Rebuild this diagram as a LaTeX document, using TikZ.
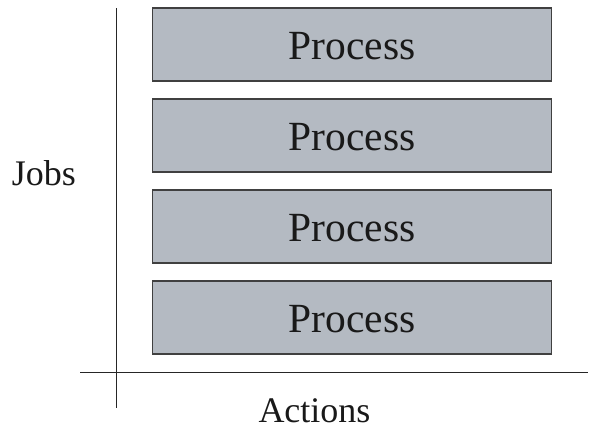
\documentclass[tikz,border=0pt]{standalone}
\usepackage{fontspec}
\setmainfont{Liberation Serif}
\begin{document}
\begin{tikzpicture}[x=1pt,y=1pt,
  procbox/.style={draw=black!75, line width=1.4pt, fill=boxfill,
    minimum width=399pt, minimum height=73pt, inner sep=0pt,
    text=black!90, font=\fontsize{41.5}{48}\selectfont},
  proclabel/.style={anchor=base, inner sep=0pt, text=black!90,
    font=\fontsize{41.5}{48}\selectfont},
  axisline/.style={draw=black!85, line width=1.4pt},
  axislabel/.style={anchor=base, inner sep=0pt, text=black!90,
    font=\fontsize{36}{42}\selectfont}]
\definecolor{boxfill}{RGB}{180,186,194}
\useasboundingbox (0,0) rectangle (589,430);
% axes
\coordinate (vtop) at (116.5,421.5);
\coordinate (vbot) at (116.5,22);
\coordinate (hleft) at (80,57.5);
\coordinate (hright) at (588,57.5);
\draw[axisline] (vtop) -- (vbot);
\draw[axisline] (hleft) -- (hright);
% stacked process boxes
\node[procbox] (p1) at (352,385.5) {};
\node[procbox] (p2) at (352,294.5) {};
\node[procbox] (p3) at (352,203.5) {};
\node[procbox] (p4) at (352,112.5) {};
\node[proclabel] (t1) at ([yshift=-14.8pt]p1.center) {Process};
\node[proclabel] (t2) at ([yshift=-14.8pt]p2.center) {Process};
\node[proclabel] (t3) at ([yshift=-14.8pt]p3.center) {Process};
\node[proclabel] (t4) at ([yshift=-14.8pt]p4.center) {Process};
% axis labels
\node[axislabel] (jobs) at (44,244) {Jobs};
\node[axislabel] (actions) at (314.5,7) {Actions};
\end{tikzpicture}
\end{document}
